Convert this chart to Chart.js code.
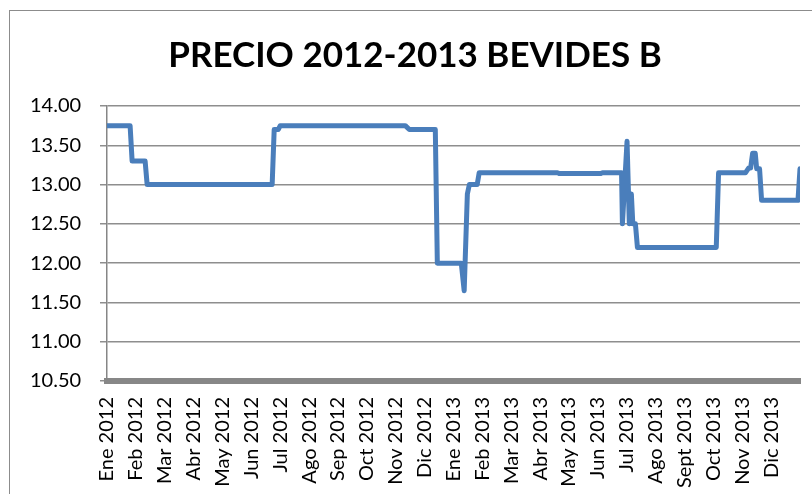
<!DOCTYPE html>
<html><head><meta charset="utf-8">
<script src="https://cdn.jsdelivr.net/npm/chart.js@4/dist/chart.umd.min.js"></script>
<style>
html,body{margin:0;padding:0;background:#fff;overflow:hidden;}
#wrap{position:relative;width:812px;height:494px;overflow:hidden;}
#frame{position:absolute;left:9px;top:10px;width:900px;height:600px;border:1px solid #8c8c8c;box-sizing:border-box;}
canvas{position:absolute;left:0;top:0;}
</style></head><body>
<div id="wrap"><div id="frame"></div><canvas id="c" width="812" height="494"></canvas></div>
<script>
const chartTitle = 'PRECIO 2012-2013 BEVIDES B';
const monthLabels = ['Ene 2012','Feb 2012','Mar 2012','Abr 2012','May 2012','Jun 2012','Jul 2012','Ago 2012','Sep 2012','Oct 2012','Nov 2012','Dic 2012',
  'Ene 2013','Feb 2013','Mar 2013','Abr 2013','May 2013','Jun 2013','Jul 2013','Ago 2013','Sept 2013','Oct 2013','Nov 2013','Dic 2013'];
// time position in months since start of Ene 2012
const priceMonths = [0, 0.80, 0.87, 1.32, 1.39, 5.72, 5.79, 5.93, 6.00, 10.33, 10.47, 11.37, 11.44, 12.27, 12.37, 12.48, 12.55, 12.82, 12.89,
  15.60, 15.67, 17.09, 17.16, 17.82, 17.85, 18.01, 18.09, 18.16, 18.21, 18.30, 18.37, 21.10, 21.18, 22.11, 22.22, 22.29, 22.36, 22.45, 22.50,
  22.60, 22.67, 23.93, 24.00];
const priceValues = [13.75, 13.75, 13.30, 13.30, 13.00, 13.00, 13.70, 13.70, 13.75, 13.75, 13.70, 13.70, 12.00, 12.00, 11.65, 12.88, 13.00, 13.00, 13.15,
  13.15, 13.14, 13.14, 13.15, 13.15, 12.50, 13.55, 12.50, 12.88, 12.50, 12.50, 12.20, 12.20, 13.15, 13.15, 13.21, 13.21, 13.40, 13.40, 13.20,
  13.20, 12.80, 12.80, 13.20];
const yMin = 10.5, yMax = 14.0, yStep = 0.5;

const points = priceMonths.map((m, i) => ({x: m, y: priceValues[i]}));
const FONT = 'Lato, "Open Sans", sans-serif';

new Chart(document.getElementById('c'), {
  type: 'line',
  data: { datasets: [{ data: points, borderColor: '#4a7ebb', borderWidth: 5, pointRadius: 0, tension: 0,
    borderJoinStyle: 'round', borderCapStyle: 'round', fill: false }] },
  options: {
    responsive: false, animation: false, devicePixelRatio: 1,
    layout: { padding: { left: 30, right: 12, top: 0, bottom: 0 } },
    plugins: {
      legend: { display: false }, tooltip: { enabled: false },
      title: { display: true, text: chartTitle, color: '#000',
        font: { family: FONT, size: 35, weight: 'bold', lineHeight: 1.2 },
        padding: { top: 35, bottom: 29 } }
    },
    scales: {
      x: { type: 'linear', min: 0, max: 24,
        grid: { display: false, drawTicks: false },
        border: { display: true, color: '#878787', width: 6 },
        ticks: { stepSize: 1, autoSkip: false, maxRotation: 90, minRotation: 90, padding: 16, color: '#000',
          font: { family: FONT, size: 20 },
          callback: (v) => monthLabels[v] !== undefined ? monthLabels[v] : '' },
        afterFit: (s) => { s.height = 113; s.paddingLeft = 0; s.paddingRight = 0; }
      },
      y: { min: yMin, max: yMax,
        grid: { color: '#8e8e8e', lineWidth: 1.5, tickLength: 7 },
        border: { display: true, color: '#868686', width: 1.5 },
        ticks: { stepSize: yStep, padding: 20, crossAlign: 'far', color: '#000', font: { family: FONT, size: 20 },
          callback: (v) => Number(v).toFixed(2) },
        afterFit: (s) => { s.width = 77; s.paddingTop = 0; s.paddingBottom = 0; }
      }
    }
  }
});
</script>
</body></html>
